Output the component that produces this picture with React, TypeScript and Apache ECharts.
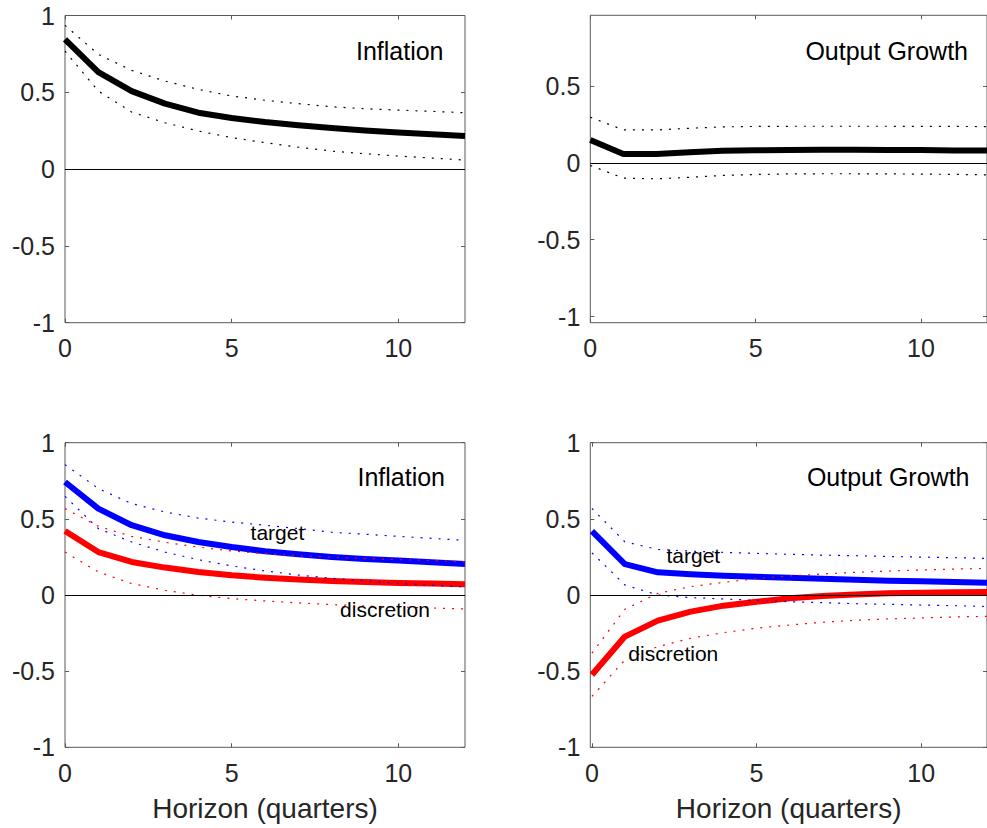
import React, { useEffect, useRef } from "react";
import * as echarts from "echarts";

// Horizon (quarters)
const horizon = [0, 1, 2, 3, 4, 5, 6, 7, 8, 9, 10, 11, 12];
const xTicks = [0, 5, 10];
const yTicks = [-1, -0.5, 0, 0.5, 1];
const yTicksTopRight = [-1, -0.5, 0, 0.5];

// Top-left: Inflation
const inflMid = [0.845, 0.632, 0.508, 0.426, 0.367, 0.333, 0.306, 0.285, 0.267, 0.252, 0.239, 0.227, 0.216];
const inflUp = [0.936, 0.747, 0.643, 0.573, 0.519, 0.476, 0.448, 0.426, 0.406, 0.393, 0.384, 0.376, 0.367];
const inflLo = [0.768, 0.508, 0.371, 0.302, 0.248, 0.205, 0.172, 0.143, 0.117, 0.1, 0.085, 0.072, 0.059];

// Top-right: Output Growth
const outMid = [0.149, 0.058, 0.058, 0.069, 0.078, 0.082, 0.084, 0.085, 0.085, 0.084, 0.083, 0.081, 0.08];
const outUp = [0.297, 0.214, 0.214, 0.225, 0.234, 0.237, 0.238, 0.238, 0.238, 0.238, 0.237, 0.237, 0.236];
const outLo = [-0.017, -0.099, -0.104, -0.094, -0.082, -0.076, -0.072, -0.071, -0.071, -0.072, -0.073, -0.075, -0.078];

// Bottom-left: Inflation, target vs discretion
const inflTargetMid = [0.742, 0.567, 0.458, 0.392, 0.348, 0.315, 0.287, 0.267, 0.25, 0.236, 0.226, 0.215, 0.204];
const inflTargetUp = [0.856, 0.699, 0.6, 0.545, 0.505, 0.479, 0.458, 0.436, 0.412, 0.399, 0.385, 0.372, 0.359];
const inflTargetLo = [0.648, 0.436, 0.348, 0.282, 0.232, 0.191, 0.158, 0.131, 0.11, 0.092, 0.077, 0.064, 0.053];
const inflDiscMid = [0.42, 0.282, 0.217, 0.18, 0.151, 0.129, 0.114, 0.101, 0.092, 0.085, 0.079, 0.075, 0.07];
const inflDiscUp = [0.567, 0.451, 0.385, 0.346, 0.315, 0.289, 0.272, 0.259, 0.248, 0.239, 0.232, 0.226, 0.219];
const inflDiscLo = [0.282, 0.151, 0.075, 0.031, -0.002, -0.024, -0.039, -0.052, -0.063, -0.072, -0.079, -0.085, -0.092];

// Bottom-right: Output Growth, target vs discretion
const outTargetMid = [0.419, 0.203, 0.149, 0.136, 0.127, 0.12, 0.113, 0.107, 0.1, 0.094, 0.09, 0.085, 0.081];
const outTargetUp = [0.568, 0.349, 0.299, 0.288, 0.28, 0.273, 0.267, 0.262, 0.258, 0.253, 0.249, 0.245, 0.24];
const outTargetLo = [0.277, 0.066, 0.0, -0.017, -0.026, -0.035, -0.044, -0.05, -0.057, -0.061, -0.066, -0.07, -0.076];
const outDiscMid = [-0.524, -0.273, -0.168, -0.109, -0.07, -0.044, -0.022, -0.007, 0.004, 0.011, 0.015, 0.018, 0.02];
const outDiscUp = [-0.382, -0.094, 0.011, 0.055, 0.083, 0.107, 0.125, 0.138, 0.149, 0.157, 0.164, 0.17, 0.175];
const outDiscLo = [-0.666, -0.426, -0.339, -0.284, -0.247, -0.218, -0.197, -0.179, -0.166, -0.157, -0.151, -0.144, -0.14];

const FONT = "'Liberation Sans', Arial, Helvetica, sans-serif";
const AXIS_COLOR = "#262626";
const BOX_COLOR = "#5a5a5a";

const pairs = (ys: number[]) => horizon.map((x, i) => [x, ys[i]]);

export default function App() {
  const ref = useRef<HTMLDivElement>(null);

  useEffect(() => {
    if (!ref.current) return;
    const chart = echarts.init(ref.current, undefined, { renderer: "svg" });

    const grids = [
      { left: 65, top: 15.5, width: 400, height: 307.2 },
      { left: 590.3, top: 15.3, width: 401.6, height: 307.4 },
      { left: 65, top: 442.7, width: 400, height: 304.6 },
      { left: 590.3, top: 442.7, width: 403.2, height: 304.6 },
    ];
    const xRanges = [
      [0, 12],
      [0, 12],
      [0, 12],
      [-0.05, 12],
    ];
    const yRanges = [
      [-1, 1],
      [-1.04, 0.96],
      [-1, 1],
      [-1, 1],
    ];
    const yTickSets = [yTicks, yTicksTopRight, yTicks, yTicks];

    const tickStyle = (values: number[]) => ({
      show: true,
      inside: true,
      length: 4,
      customValues: values,
      lineStyle: { color: BOX_COLOR, width: 1 },
    });

    const xAxis: any[] = [];
    const yAxis: any[] = [];
    grids.forEach((_, g) => {
      const isBottom = g >= 2;
      xAxis.push({
        type: "value",
        gridIndex: g,
        position: "bottom",
        min: xRanges[g][0],
        max: xRanges[g][1],
        axisLine: { show: false, onZero: false },
        axisTick: tickStyle(xTicks),
        axisLabel: {
          show: true,
          customValues: xTicks,
          fontSize: 25,
          fontFamily: FONT,
          color: AXIS_COLOR,
          margin: 13,
        },
        splitLine: { show: false },
        name: isBottom ? "Horizon (quarters)" : "",
        nameLocation: "middle",
        nameGap: 47,
        nameTextStyle: { fontSize: 28, fontFamily: FONT, color: AXIS_COLOR },
      });
      xAxis.push({
        type: "value",
        gridIndex: g,
        position: "top",
        min: xRanges[g][0],
        max: xRanges[g][1],
        axisLine: { show: false, onZero: false },
        axisTick: tickStyle(xTicks),
        axisLabel: { show: false },
        splitLine: { show: false },
      });
      yAxis.push({
        type: "value",
        gridIndex: g,
        position: "left",
        min: yRanges[g][0],
        max: yRanges[g][1],
        axisLine: { show: false, onZero: false },
        axisTick: tickStyle(yTickSets[g]),
        axisLabel: {
          show: true,
          customValues: yTickSets[g],
          fontSize: 25,
          fontFamily: FONT,
          color: AXIS_COLOR,
          margin: 10,
        },
        splitLine: { show: false },
      });
      yAxis.push({
        type: "value",
        gridIndex: g,
        position: "right",
        min: yRanges[g][0],
        max: yRanges[g][1],
        axisLine: { show: false, onZero: false },
        axisTick: tickStyle(yTickSets[g]),
        axisLabel: { show: false },
        splitLine: { show: false },
      });
    });

    const series: any[] = [];
    const zeroLine = {
      silent: true,
      symbol: ["none", "none"],
      label: { show: false },
      lineStyle: { color: "#000", width: 1, type: "solid" },
      data: [{ yAxis: 0 }],
    };
    const addLine = (g: number, name: string, ys: number[], color: string, kind: "solid" | "dot", withZero = false) => {
      const s: any = {
        type: "line",
        name,
        xAxisIndex: g * 2,
        yAxisIndex: g * 2,
        data: pairs(ys),
        symbol: "none",
        showSymbol: false,
        clip: true,
        silent: true,
        lineStyle:
          kind === "solid"
            ? { color, width: 6, type: "solid", cap: "butt", join: "round" }
            : { color, width: 1.2, type: [2, 7] },
        itemStyle: { color },
        z: kind === "solid" ? 3 : 4,
      };
      if (withZero) s.markLine = zeroLine;
      series.push(s);
    };

    // Top-left
    addLine(0, "Inflation upper", inflUp, "#000", "dot", true);
    addLine(0, "Inflation lower", inflLo, "#000", "dot");
    addLine(0, "Inflation", inflMid, "#000", "solid");
    // Top-right
    addLine(1, "Output Growth upper", outUp, "#000", "dot", true);
    addLine(1, "Output Growth lower", outLo, "#000", "dot");
    addLine(1, "Output Growth", outMid, "#000", "solid");
    // Bottom-left
    addLine(2, "discretion", inflDiscMid, "#ff0000", "solid", true);
    addLine(2, "discretion upper", inflDiscUp, "#ff0000", "dot");
    addLine(2, "discretion lower", inflDiscLo, "#ff0000", "dot");
    addLine(2, "target", inflTargetMid, "#0000ff", "solid");
    addLine(2, "target upper", inflTargetUp, "#0000ff", "dot");
    addLine(2, "target lower", inflTargetLo, "#0000ff", "dot");
    // Bottom-right
    addLine(3, "discretion", outDiscMid, "#ff0000", "solid", true);
    addLine(3, "discretion upper", outDiscUp, "#ff0000", "dot");
    addLine(3, "discretion lower", outDiscLo, "#ff0000", "dot");
    addLine(3, "target", outTargetMid, "#0000ff", "solid");
    addLine(3, "target upper", outTargetUp, "#0000ff", "dot");
    addLine(3, "target lower", outTargetLo, "#0000ff", "dot");

    const txt = (text: string, x: number, y: number, size: number, align: string) => ({
      type: "text",
      x,
      y,
      z: 100,
      style: {
        text,
        fontSize: size,
        fontFamily: FONT,
        fill: "#000",
        textAlign: align,
        textVerticalAlign: "middle",
      },
    });

    chart.setOption({
      animation: false,
      backgroundColor: "#ffffff",
      grid: grids.map((g) => ({
        ...g,
        show: true,
        borderColor: BOX_COLOR,
        borderWidth: 1,
        backgroundColor: "transparent",
        containLabel: false,
      })),
      xAxis,
      yAxis,
      series,
      graphic: [
        txt("Inflation", 443.5, 50.5, 25, "right"),
        txt("Output Growth", 968, 50.5, 25, "right"),
        txt("Inflation", 445, 476.5, 25, "right"),
        txt("Output Growth", 969.5, 476.5, 25, "right"),
        txt("target", 277.4, 532, 21, "center"),
        txt("discretion", 385, 609.5, 21, "center"),
        txt("target", 693.3, 555, 21, "center"),
        txt("discretion", 673.3, 653.7, 21, "center"),
      ],
    });

    return () => chart.dispose();
  }, []);

  return (
    <div
      ref={ref}
      style={{ position: "fixed", left: 0, top: 0, width: 987, height: 828, background: "#fff" }}
    />
  );
}
